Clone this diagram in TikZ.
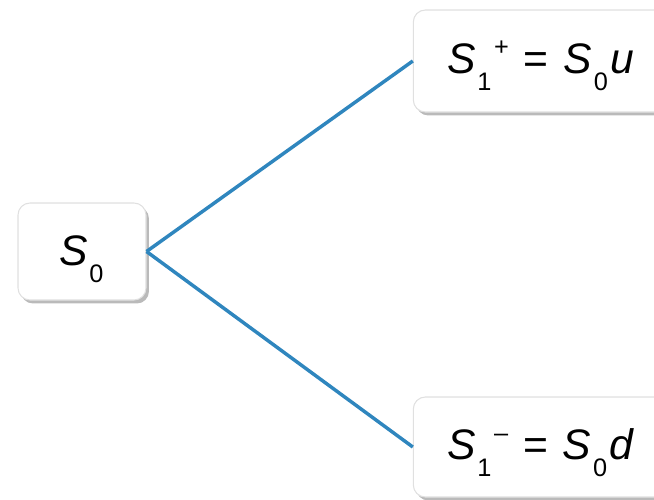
\documentclass[tikz,border=0pt]{standalone}
\usepackage{fontspec}
\setmainfont{Liberation Sans}
\usetikzlibrary{shadows}
\definecolor{edgeblue}{HTML}{2F86BE}
\definecolor{boxline}{HTML}{E0E0E0}
% subscript / superscript helpers for the price labels
\newcommand{\lowidx}[1]{\hspace{0.04em}\raisebox{-0.40em}{\fontsize{19}{19}\selectfont #1}}
\newcommand{\highidx}[1]{\hspace{0.06em}\raisebox{0.42em}{\fontsize{19}{19}\selectfont #1}}
\newcommand{\eqsign}{\hspace{0.35em}=\hspace{0.35em}}
\begin{document}
\begin{tikzpicture}[x=0.75pt,y=-0.75pt,
  pricebox/.style={draw=boxline, line width=0.8pt, fill=white, rounded corners=9pt,
    drop shadow={shadow xshift=2.2pt, shadow yshift=-2.6pt, fill=black!45, opacity=0.6},
    inner sep=0pt},
  pricetext/.style={inner sep=0pt, font=\fontsize{32}{36}\selectfont},
  branch/.style={draw=edgeblue, line width=2.6pt}]
\useasboundingbox (0,0) rectangle (654,500);
\node[pricebox, minimum width=96pt, minimum height=72.75pt] (s0) at (82,251.5) {};
\node[pricebox, minimum width=190pt, minimum height=76.5pt] (up) at (540,61) {};
\node[pricebox, minimum width=190pt, minimum height=75pt] (dn) at (540,447) {};
\node[pricetext, anchor=base west] (s0t) at (59,265) {\textit{S}\lowidx{0}};
\node[pricetext, anchor=base west] (upt) at (447,73) {\textit{S}\lowidx{1}\highidx{+}\eqsign\textit{S}\lowidx{0}\hspace{0.05em}\textit{u}};
\node[pricetext, anchor=base west] (dnt) at (447,459) {\textit{S}\lowidx{1}\highidx{–}\eqsign\textit{S}\lowidx{0}\hspace{0.05em}\textit{d}};
\draw[branch] (s0.east) -- (up.west);
\draw[branch] (s0.east) -- (dn.west);
\end{tikzpicture}
\end{document}
